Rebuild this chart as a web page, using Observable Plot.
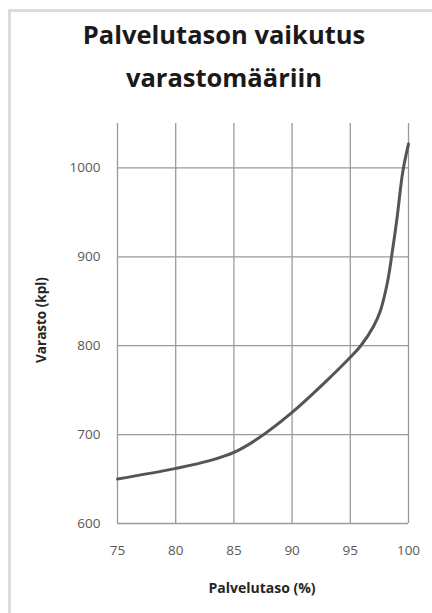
<!DOCTYPE html>
<html>
<head>
<meta charset="utf-8">
<script src="https://cdn.jsdelivr.net/npm/d3@7"></script>
<script src="https://cdn.jsdelivr.net/npm/@observablehq/plot@0.6"></script>
<style>
  html, body { margin: 0; padding: 0; background: #fff; }
  #wrap { position: relative; width: 432px; height: 613px; overflow: hidden; background: #fff; }
  #border { position: absolute; left: 8px; top: 9px; width: 440px; height: 620px;
            border-top: 3px solid #dcdcdc; border-left: 3px solid #dcdcdc; }
  .title { position: absolute; left: 0; width: 448px; text-align: center;
           font-family: "Open Sans", sans-serif; font-weight: bold; font-size: 25.5px; color: #1a1a1a; }
  #chart { position: absolute; left: 0; top: 110px; }
  .ytitle { position: absolute; left: 41px; top: 320px; transform: translate(-50%, -50%) rotate(-90deg);
            font-family: "Open Sans", sans-serif; font-weight: bold; font-size: 13.5px; color: #262626; white-space: nowrap; }
  .xtitle { position: absolute; left: 262px; top: 587px; transform: translate(-50%, -50%);
            font-family: "Open Sans", sans-serif; font-weight: bold; font-size: 14px; color: #262626; white-space: nowrap; }
</style>
</head>
<body>
<div id="wrap">
  <div id="border"></div>
  <div class="title" style="top:17px">Palvelutason vaikutus</div>
  <div class="title" style="top:60px">varastomääriin</div>
  <div id="chart"></div>
  <div class="ytitle">Varasto (kpl)</div>
  <div class="xtitle">Palvelutaso (%)</div>
</div>
<script>
const serviceLevel = [75, 80, 83, 85, 87, 90, 93, 95, 95.9, 97, 97.6, 98.2, 98.6, 99, 99.5, 100];
const inventory   = [650, 662, 671, 680, 695, 725, 761, 787, 800, 822, 840, 872, 905, 942, 995, 1027];
const xTicks = [75, 80, 85, 90, 95, 100];
const yTicks = [600, 700, 800, 900, 1000];

const data = serviceLevel.map((x, i) => ({x, y: inventory[i]}));

const chart = Plot.plot({
  width: 432,
  height: 503,
  marginLeft: 117,
  marginRight: 24,
  marginTop: 13,
  marginBottom: 90,
  style: { fontFamily: "'Open Sans', sans-serif", fontSize: "13.5px", color: "#595959", background: "transparent" },
  x: { domain: [75, 100], ticks: xTicks, tickSize: 0, tickPadding: 22, label: null, tickFormat: d => String(d) },
  y: { domain: [600, 1050], ticks: yTicks, tickSize: 0, tickPadding: 17, label: null, tickFormat: d => String(d) },
  marks: [
    Plot.ruleX(xTicks, { stroke: "#9a9a9a", strokeWidth: 1.3 }),
    Plot.ruleY(yTicks, { x1: 75, x2: 100, stroke: "#9a9a9a", strokeWidth: 1.3 }),
    Plot.line(data, { x: "x", y: "y", curve: "catmull-rom", stroke: "#555555", strokeWidth: 3 })
  ]
});
document.getElementById("chart").appendChild(chart);
</script>
</body>
</html>
